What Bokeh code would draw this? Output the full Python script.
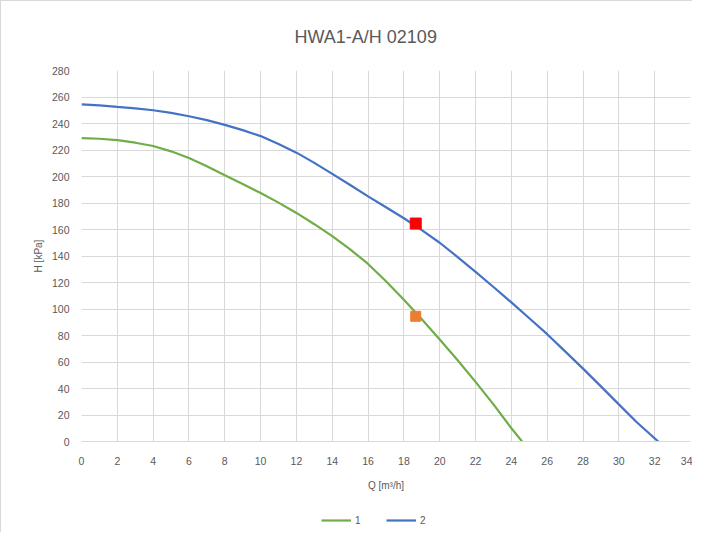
from bokeh.plotting import figure
from bokeh.layouts import column
from bokeh.models import Range1d, FixedTicker, Legend, LegendItem
from bokeh.embed import file_html
from bokeh.resources import INLINE

# Data
q1 = [0, 1, 2, 3, 4, 5, 6, 7, 8, 9, 10, 11, 12, 13, 14, 15, 16, 17, 18, 19, 20, 21, 22, 23, 24, 24.6]
h1 = [229, 228.5, 227.5, 225.5, 223, 219, 214, 207.8, 201, 194.3, 187.5, 180.3, 172.5, 164, 155,
      145, 134, 121, 107, 92.3, 77, 61.3, 45, 28, 10, 0]

q2 = [0, 1, 2, 3, 4, 5, 6, 7, 8, 9, 10, 11, 12, 13, 14, 15, 16, 17, 18, 19, 20, 21, 22, 23, 24,
      25, 26, 27, 28, 29, 30, 31, 32.2]
h2 = [254.5, 253.7, 252.5, 251.4, 250, 248, 245.5, 242.5, 239, 235, 230.5, 224.5, 218, 210.3, 202,
      193.6, 185, 176.8, 168.5, 159.5, 150, 139.2, 128, 116.6, 105, 93, 81, 68, 55, 41.6, 28, 14.5, 0]

op_q = [18.66]
op_h_red = [164.5]
op_h_orange = [94.5]

series_names = ["1", "2"]
series_colors = ["#70AD47", "#4472C4"]

x_ticks = list(range(0, 35, 2))
y_ticks = list(range(0, 281, 20))

FONT = "Liberation Sans"
TXT = "#595959"
GRID = "#d9d9d9"

p = figure(width=691, height=492, output_backend="svg", toolbar_location=None,
           x_range=Range1d(0, 34), y_range=Range1d(0, 280),
           min_border_left=80, min_border_right=2, min_border_top=68, min_border_bottom=52)

p.title.text = "HWA1-A/H 02109"
p.title.align = "left"
p.title.offset = 213
p.title.text_font = FONT
p.title.text_font_size = "18px"
p.title.text_font_style = "normal"
p.title.text_color = TXT
p.title.standoff = 47

p.outline_line_color = None
p.xaxis.ticker = FixedTicker(ticks=x_ticks)
p.yaxis.ticker = FixedTicker(ticks=y_ticks)
p.xgrid.ticker = FixedTicker(ticks=x_ticks)
p.ygrid.ticker = FixedTicker(ticks=y_ticks)
p.grid.grid_line_color = GRID
p.grid.grid_line_width = 1

for ax in (p.xaxis, p.yaxis):
    ax.major_tick_line_color = None
    ax.minor_tick_line_color = None
    ax.major_label_text_font = FONT
    ax.major_label_text_font_size = "10.5px"
    ax.major_label_text_color = TXT
    ax.axis_label_text_font = FONT
    ax.axis_label_text_font_size = "10px"
    ax.axis_label_text_font_style = "normal"
    ax.axis_label_text_color = TXT
p.xaxis.axis_line_color = GRID
p.yaxis.axis_line_color = None
p.xaxis.major_label_standoff = 9
p.yaxis.major_label_standoff = 6
p.xaxis.axis_label = "Q [m³/h]"
p.yaxis.axis_label = "H [kPa]"
p.xaxis.axis_label_standoff = 12
p.yaxis.axis_label_standoff = 5

p.line(q1, h1, line_color=series_colors[0], line_width=2.2)
p.line(q2, h2, line_color=series_colors[1], line_width=2.2)
p.scatter(op_q, op_h_orange, marker="square", size=10, fill_color="#ED7D31", line_color="#ED7D31")
p.scatter(op_q, op_h_red, marker="square", size=11, fill_color="#FF0000", line_color="#FF0000")

# legend strip below the chart (legend-only renderers, off-screen data)
pl = figure(width=691, height=39, output_backend="svg", toolbar_location=None,
            x_range=Range1d(0, 1), y_range=Range1d(0, 1),
            x_axis_location=None, y_axis_location=None, min_border=0)
pl.outline_line_color = None
pl.grid.visible = False
items = []
for name, col in zip(series_names, series_colors):
    r = pl.line([-10, -9], [-10, -9], line_color=col, line_width=2.2)
    items.append(LegendItem(label=name, renderers=[r]))
legend = Legend(items=items, orientation="horizontal", location=(240, 5),
                label_text_font=FONT, label_text_font_size="10px", label_text_color=TXT,
                glyph_width=30, glyph_height=14, label_standoff=4, label_width=6,
                spacing=25, padding=0, margin=0, border_line_color=None,
                background_fill_alpha=0)
pl.add_layout(legend)

layout = column(p, pl, spacing=0)
layout.styles = {"border-left": "1px solid #d9d9d9", "border-top": "1px solid #d9d9d9"}

open("out.html", "w").write(file_html(layout, INLINE))
